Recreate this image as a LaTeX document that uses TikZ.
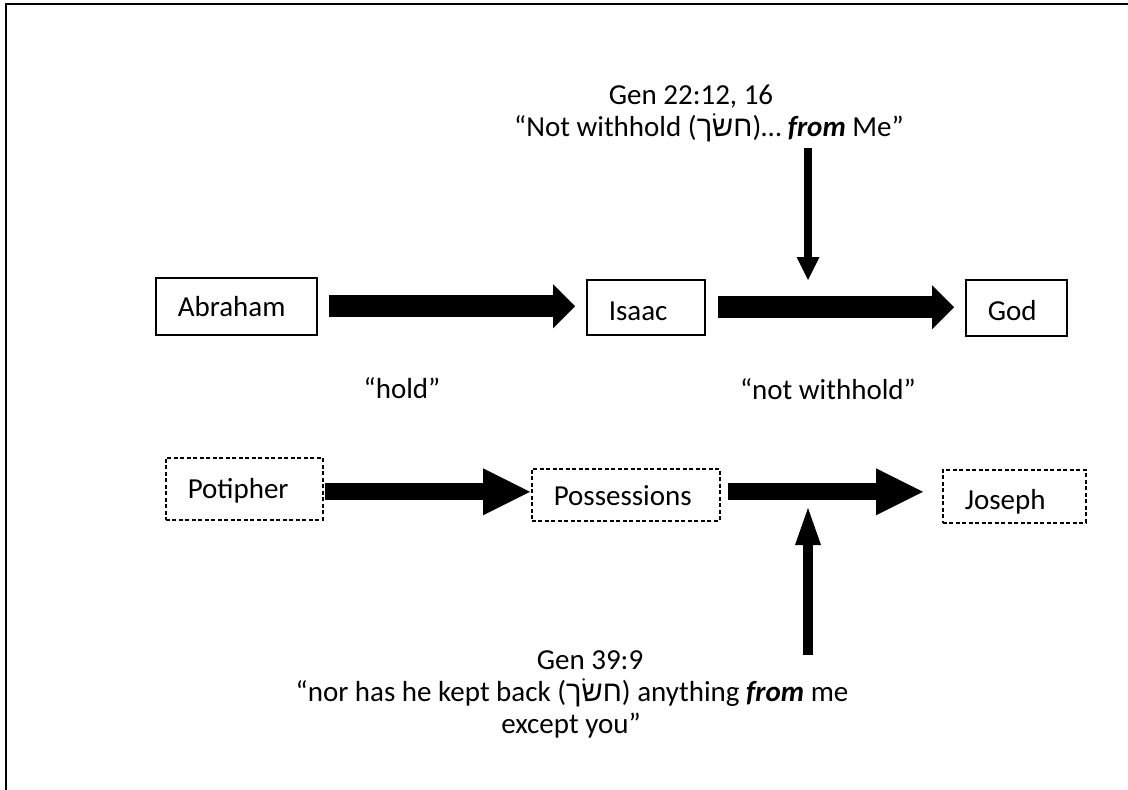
\documentclass[tikz,border=0pt]{standalone}
\usepackage{fontspec}
\setmainfont{Carlito}
\newfontfamily\hebfont[Script=Hebrew]{Liberation Sans}
\TeXXeTstate=1
\usetikzlibrary{arrows.meta,calc}

\begin{document}
\begin{tikzpicture}[x=1pt,y=-1pt,
  font=\fontsize{29}{32}\selectfont,
  namebox/.style={draw, line width=1.5pt, rectangle, anchor=north west,
    inner xsep=22pt, inner ysep=0pt, align=left,
    text height=21pt, text depth=1pt},
  lowtext/.style={text height=27pt, text depth=1pt},
  dashbox/.style={namebox, dash pattern=on 4pt off 2.5pt},
  caption/.style={inner sep=0pt, anchor=base},
  widearrow/.style={line width=22pt,
    -{Triangle[length=22pt,width=44pt,line width=0pt]}},
  slimarrow/.style={line width=17pt,
    -{Triangle[length=47pt,width=47pt,line width=0pt]}},
  downarrow/.style={line width=8pt,
    -{Triangle[length=23pt,width=23pt,line width=0pt]}},
  uparrow/.style={line width=10pt,
    -{Triangle[length=37pt,width=26pt,line width=0pt]}}]

\useasboundingbox (0,0) rectangle (1128,790);
\fill[white] (0,0) rectangle (1128,790);

% outer frame (only its top and left edges fall on the page)
\draw[line width=2.5pt] (6,800) -- (6,4) -- (1140,4);

% first row: Abraham -> Isaac -> God
\node[namebox, text width=117pt, minimum height=57pt] (abraham) at (155,277) {Abraham};
\node[namebox, lowtext, text width=74pt, minimum height=55pt] (isaac) at (586,279) {Isaac};
\node[namebox, lowtext, text width=57pt, minimum height=56pt] (god) at (965,279) {God};

\draw[widearrow, shorten <=11pt, shorten >=11pt]
  (abraham.east) -- (abraham.east -| isaac.west);
\draw[widearrow, shorten <=12pt, shorten >=11pt]
  (isaac.east) -- (isaac.east -| god.west);

% second row: Potipher -> Possessions -> Joseph
\node[dashbox, text width=113pt, minimum height=62pt] (potipher) at (165,457) {Potipher};
\node[dashbox, text depth=-1pt, text width=144pt, minimum height=52pt] (possessions) at (531,468) {Possessions};
\node[dashbox, lowtext, text width=99pt, minimum height=53pt] (joseph) at (942,469) {Joseph};

\draw[slimarrow, shorten <=1pt, shorten >=1pt]
  ($(potipher.east)+(0,3)$) -- ($(possessions.west)+(0,-3)$);
\draw[slimarrow, shorten <=7pt, shorten >=19pt]
  ($(possessions.east)+(0,-3)$) -- ($(possessions.east -| joseph.west)+(0,-3)$);

% row captions
\node[caption] (hold) at (402,398) {“hold”};
\node[caption] (notwithhold) at (828,399) {“not withhold”};

% verse from Genesis 22
\node[caption] (gen22) at (691,104) {Gen 22:12, 16};
\node[caption] (gen22text) at (709,136)
  {“Not withhold ({\hebfont\beginR חשׂך\endR})… \textbf{\textit{from}} Me”};
\coordinate (downstart) at (808,148);
\coordinate (downend) at (808,280);
\draw[downarrow] (downstart) -- (downend);

% verse from Genesis 39
\node[caption] (gen39) at (590,669) {Gen 39:9};
\node[caption] (gen39text) at (572,701)
  {“nor has he kept back ({\hebfont\beginR חשׂך\endR}) anything \textbf{\textit{from}} me};
\node[caption] (gen39end) at (571,733) {except you”};
\coordinate (upstart) at (808,655);
\coordinate (upend) at (808,508);
\draw[uparrow] (upstart) -- (upend);

\end{tikzpicture}
\end{document}
